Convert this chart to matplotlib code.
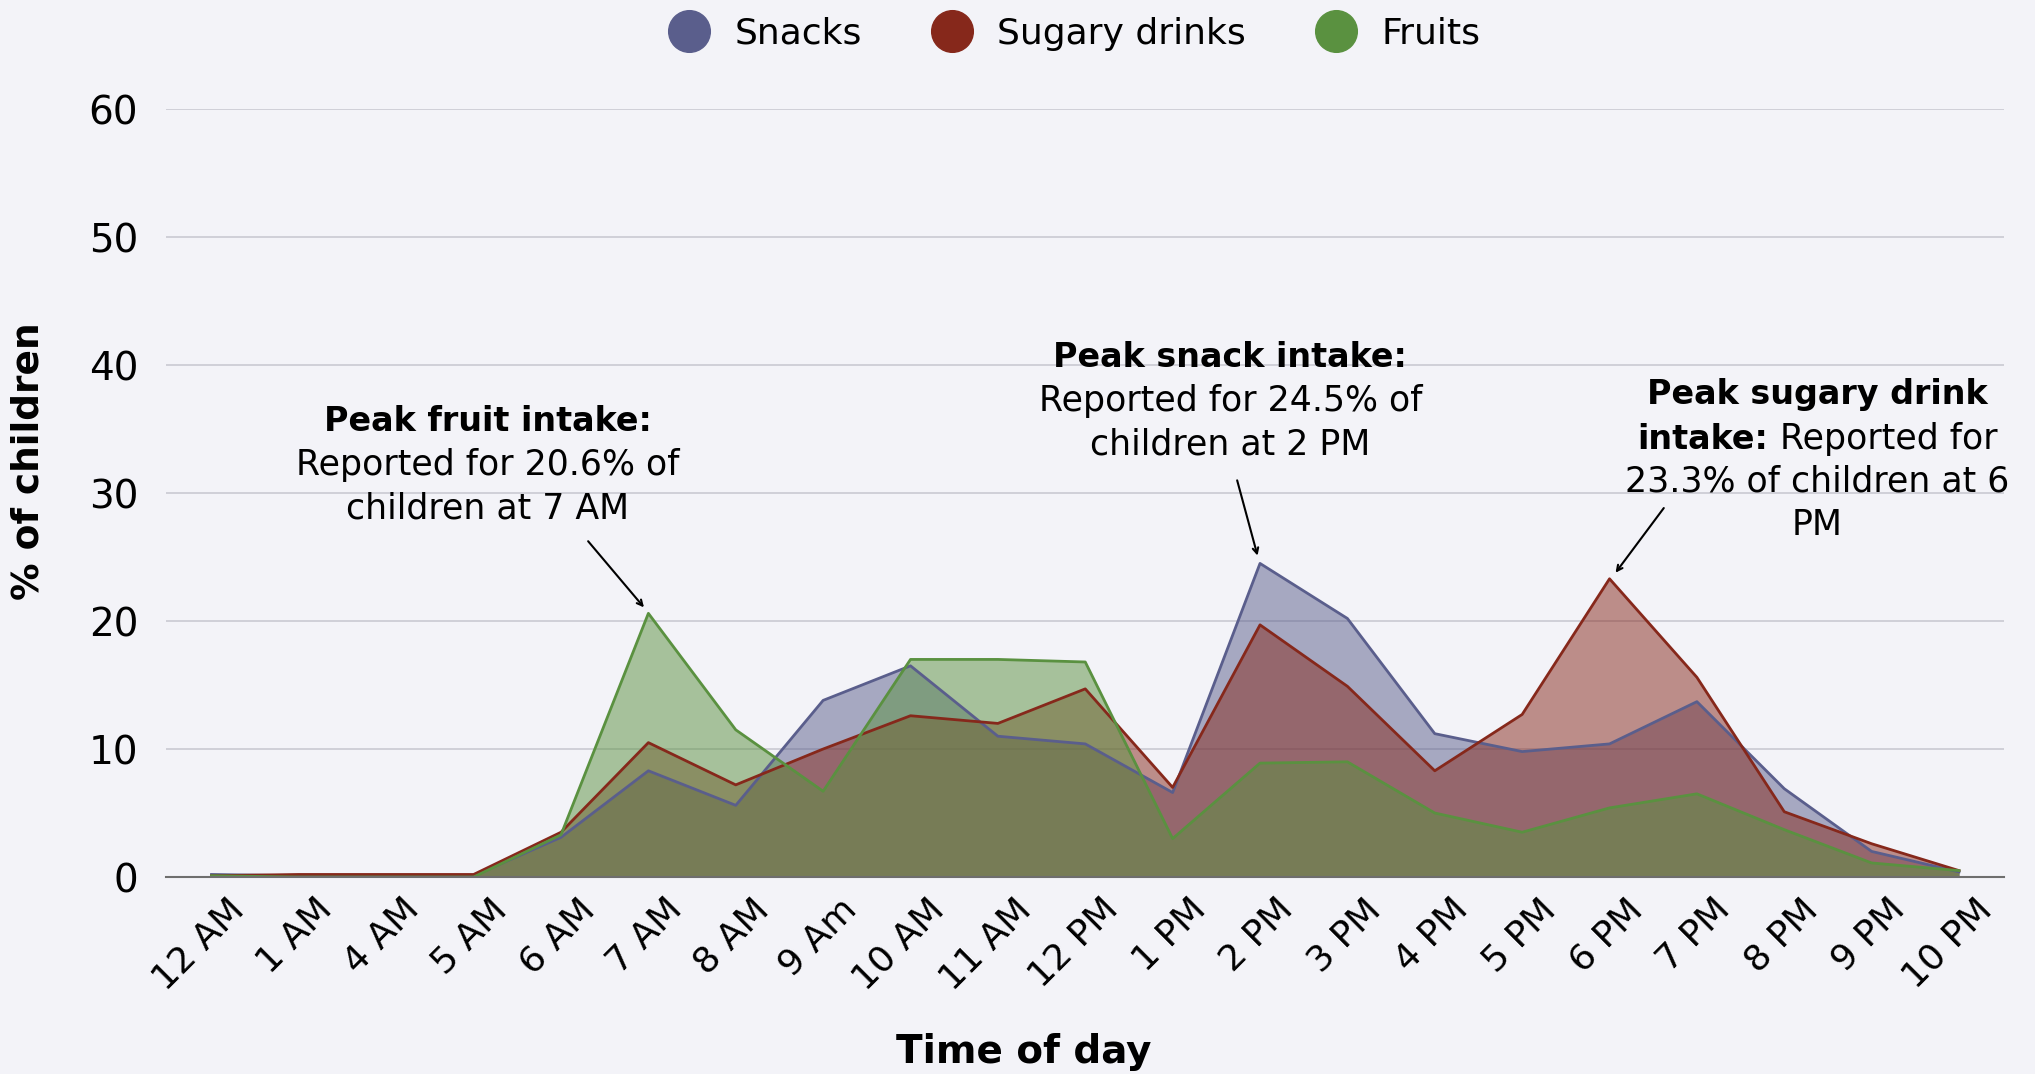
import matplotlib
matplotlib.use("Agg")
import matplotlib.pyplot as plt
from matplotlib.lines import Line2D
from matplotlib.offsetbox import TextArea, HPacker, AnnotationBbox
import matplotlib.transforms as mtransforms

hours = ["12 AM", "1 AM", "4 AM", "5 AM", "6 AM", "7 AM", "8 AM", "9 Am", "10 AM",
         "11 AM", "12 PM", "1 PM", "2 PM", "3 PM", "4 PM", "5 PM", "6 PM", "7 PM",
         "8 PM", "9 PM", "10 PM"]
snacks = [0.2, 0.1, 0.1, 0.1, 3.1, 8.3, 5.6, 13.8, 16.5, 11.0, 10.4, 6.6, 24.5,
          20.2, 11.2, 9.8, 10.4, 13.7, 6.9, 2.0, 0.4]
sugary = [0.1, 0.2, 0.2, 0.2, 3.5, 10.5, 7.2, 10.0, 12.6, 12.0, 14.7, 7.0, 19.7,
          14.9, 8.3, 12.7, 23.3, 15.6, 5.1, 2.6, 0.5]
fruits = [0.1, 0.0, 0.0, 0.0, 3.3, 20.6, 11.5, 6.7, 17.0, 17.0, 16.8, 3.0, 8.9,
          9.0, 5.0, 3.5, 5.4, 6.5, 3.7, 1.1, 0.5]

names = ["Snacks", "Sugary drinks", "Fruits"]
colors = ["#5a5e8c", "#86281b", "#5a9140"]
bg = "#f3f3f8"

plt.rcParams["font.family"] = ["DejaVu Sans"]

fig = plt.figure(figsize=(20.35, 10.74), dpi=100, facecolor=bg)
ax = fig.add_axes([0.0816, 0.1834, 0.9034, 0.7151], facecolor=bg)

x = list(range(len(hours)))
for vals, c in zip([snacks, sugary, fruits], colors):
    ax.fill_between(x, vals, 0, color=c, alpha=0.5, linewidth=0, zorder=2)
    ax.plot(x, vals, color=c, linewidth=2, zorder=3)

ax.set_xlim(-0.52, 20.52)
ax.set_ylim(0, 60)
ax.set_yticks(range(0, 61, 10))
ax.grid(axis="y", color="#c9c9d2", linewidth=1.2, zorder=0)
ax.set_axisbelow(True)
for s in ["top", "right", "left"]:
    ax.spines[s].set_visible(False)
ax.spines["bottom"].set_color("#6e6e6e")
ax.spines["bottom"].set_linewidth(1.5)
ax.spines["bottom"].set_zorder(4)
ax.tick_params(axis="both", length=0)
ax.tick_params(axis="y", labelsize=28, pad=20)

ax.set_xticks(x)
ax.set_xticklabels(hours, rotation=45, ha="right", rotation_mode="anchor", fontsize=26)
ax.tick_params(axis="x", pad=11)
shift = mtransforms.ScaledTranslation(0.16, 0, fig.dpi_scale_trans)
for lab in ax.get_xticklabels():
    lab.set_transform(lab.get_transform() + shift)

ax.set_xlabel("Time of day", fontsize=28, fontweight="heavy", va="top")
ax.xaxis.set_label_coords(0.4665, -0.203)
ax.set_ylabel("% of children", fontsize=27, fontweight="heavy")
ax.yaxis.set_label_coords(-0.065, 0.542)

handles = [Line2D([], [], marker="o", linestyle="", markersize=30, color=c) for c in colors]
ax.legend(handles, names, loc="center", bbox_to_anchor=(0.49, 1.098), ncol=3,
          frameon=False, fontsize=26, handletextpad=0.25, columnspacing=1.5)

fs = 25
fb = 24
# fruit peak
ax.text(3.16, 35.6, "Peak fruit intake:", ha="center", va="center", fontsize=fb, fontweight="heavy")
ax.text(3.16, 32.2, "Reported for 20.6% of", ha="center", va="center", fontsize=fs)
ax.text(3.16, 28.8, "children at 7 AM", ha="center", va="center", fontsize=fs)
ax.annotate("", xy=(4.97, 20.9), xytext=(4.29, 26.4),
            arrowprops=dict(arrowstyle="->", color="black", lw=1.5))

# snack peak
ax.text(11.66, 40.6, "Peak snack intake:", ha="center", va="center", fontsize=fb, fontweight="heavy")
ax.text(11.66, 37.2, "Reported for 24.5% of", ha="center", va="center", fontsize=fs)
ax.text(11.66, 33.8, "children at 2 PM", ha="center", va="center", fontsize=fs)
ax.annotate("", xy=(11.98, 24.9), xytext=(11.73, 31.2),
            arrowprops=dict(arrowstyle="->", color="black", lw=1.5))

# sugary drink peak
ax.text(18.38, 37.7, "Peak sugary drink", ha="center", va="center", fontsize=fb, fontweight="heavy")
line2 = HPacker(children=[TextArea("intake:", textprops=dict(fontsize=fb, fontweight="heavy")),
                          TextArea(" Reported for", textprops=dict(fontsize=fs))],
                align="baseline", pad=0, sep=0)
ab = AnnotationBbox(line2, (18.38, 34.2), frameon=False, box_alignment=(0.5, 0.5),
                    annotation_clip=False)
ax.add_artist(ab)
ax.text(18.38, 30.9, "23.3% of children at 6", ha="center", va="center", fontsize=fs)
ax.text(18.38, 27.5, "PM", ha="center", va="center", fontsize=fs)
ax.annotate("", xy=(16.05, 23.6), xytext=(16.64, 29.0),
            arrowprops=dict(arrowstyle="->", color="black", lw=1.5))

fig.savefig("out.png", dpi=100, facecolor=bg)
